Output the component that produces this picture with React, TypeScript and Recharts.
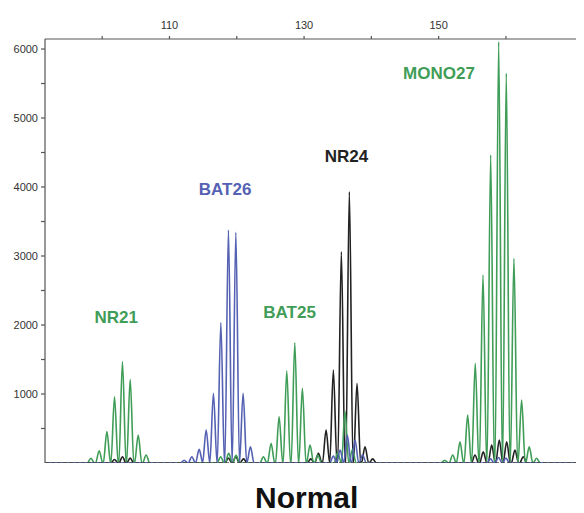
import React from 'react';
import { LineChart, Line, XAxis, YAxis, ReferenceDot } from 'recharts';

// fragment size (bp) on the x axis, peak height (RFU) on the y axis
const X_MIN = 91.5;
const X_MAX = 171.6;
const HALF_WIDTH = 0.54;

// green dye: NR21, BAT25, MONO27 (+ small bleed-through peaks)
const greenPos = [
  98.32, 99.55, 100.7, 101.83, 103.01, 104.16, 105.35, 106.53,
  117.6, 118.8, 119.9,
  123.96, 125.1, 126.29, 127.43, 128.62, 129.75, 130.89, 132.04,
  135.0, 136.09, 137.2,
  150.9, 152.09, 153.17, 154.31, 155.44, 156.59, 157.73, 158.92, 160.05, 161.19, 162.33, 163.46, 164.56,
];
const greenHeight = [
  68, 178, 454, 961, 1468, 1213, 406, 116,
  90, 140, 110,
  91, 285, 671, 1338, 1743, 1082, 261, 116,
  150, 750, 200,
  40, 116, 309, 696, 1444, 2724, 4463, 6105, 5647, 2966, 913, 236, 68,
];

// blue dye: BAT26
const bluePos = [
  112.18, 113.32, 114.41, 115.45, 116.53, 117.63, 118.76, 119.86, 120.94, 122.03,
  134.35, 135.35, 136.43, 137.58, 138.7,
  157.7, 158.9, 160.0,
];
const blueHeight = [
  40, 91, 198, 478, 1010, 2033, 3376, 3343, 1010, 236,
  100, 188, 406, 333, 120,
  60, 80, 70,
];

// black dye: NR24
const blackPos = [
  101.83, 103.01, 104.16,
  118.76, 119.86, 121.0,
  131.0, 132.13, 133.27, 134.35, 135.54, 136.73, 137.87, 139.06, 140.2,
  155.4, 156.63, 157.88, 159.01, 160.11, 161.34, 162.57,
];
const blackHeight = [
  50, 90, 70,
  70, 90, 60,
  60, 140, 478, 1348, 3062, 3931, 1155, 236, 60,
  116, 164, 261, 333, 309, 188, 91,
];

const xTicks = [100, 110, 120, 130, 140, 150, 160];
const xLabelled = [110, 130, 150];
const yTicks = [0, 500, 1000, 1500, 2000, 2500, 3000, 3500, 4000, 4500, 5000, 5500, 6000];

const markerNames = ['NR21', 'BAT26', 'BAT25', 'NR24', 'MONO27'];
const markerX = [102.08, 118.27, 127.85, 136.31, 150.05];
const markerY = [2116, 3978, 2188, 4456, 5651];

const GREEN = '#3f9d58';
const BLUE = '#5561b3';
const BLACK = '#222222';
const markerColors = [GREEN, BLUE, GREEN, BLACK, GREEN];

type Pt = { x: number; y: number };

function buildTrace(pos: number[], heights: number[]): Pt[] {
  const pts: Pt[] = [{ x: X_MIN, y: 0 }];
  pos.forEach((p, i) => {
    pts.push({ x: p - HALF_WIDTH, y: 0 }, { x: p, y: heights[i] }, { x: p + HALF_WIDTH, y: 0 });
  });
  pts.push({ x: X_MAX, y: 0 });
  return pts;
}

const greenTrace = buildTrace(greenPos, greenHeight);
const blueTrace = buildTrace(bluePos, blueHeight);
const blackTrace = buildTrace(blackPos, blackHeight);
const baseline: Pt[] = [
  { x: X_MIN, y: 0 },
  { x: X_MAX, y: 0 },
];

const tickStyle = { fill: '#333', fontSize: 11, fontFamily: 'Liberation Sans, Arial, sans-serif' };

export default function App() {
  return (
    <div style={{ position: 'relative', width: 576, height: 505, fontFamily: 'Liberation Sans, Arial, sans-serif' }}>
      <LineChart width={576} height={460} margin={{ top: 0, right: 0, left: 0, bottom: 5 }}>
        <XAxis
          dataKey="x"
          type="number"
          orientation="top"
          domain={[X_MIN, X_MAX]}
          allowDataOverflow
          ticks={xTicks}
          tickFormatter={(v: number) => (xLabelled.includes(v) ? String(v) : '')}
          height={31}
          tickSize={3}
          tickMargin={7}
          tick={tickStyle}
          stroke="#555"
          strokeWidth={1.2}
        />
        <YAxis
          type="number"
          domain={[0, 6145]}
          allowDataOverflow
          ticks={yTicks}
          tickFormatter={(v: number) => (v % 1000 === 0 ? String(v) : '')}
          width={37}
          tickSize={4}
          tickMargin={3}
          tick={tickStyle}
          stroke="#555"
          strokeWidth={1.2}
        />
        <Line data={blackTrace} dataKey="y" type="monotone" stroke={BLACK} strokeWidth={1.6} dot={false} isAnimationActive={false} />
        <Line data={greenTrace} dataKey="y" type="monotone" stroke={GREEN} strokeWidth={1.6} dot={false} isAnimationActive={false} />
        <Line data={blueTrace} dataKey="y" type="monotone" stroke={BLUE} strokeWidth={1.6} dot={false} isAnimationActive={false} />
        <Line data={baseline} dataKey="y" type="linear" stroke="#444" strokeWidth={1.3} strokeDasharray="4 2" dot={false} isAnimationActive={false} />
        {markerNames.map((name, i) => (
          <ReferenceDot
            key={name}
            x={markerX[i]}
            y={markerY[i]}
            r={0}
            fill="none"
            stroke="none"
            label={{ value: name, position: 'center', fill: markerColors[i], fontSize: 17, fontWeight: 'bold' }}
          />
        ))}
      </LineChart>
      <div
        style={{
          position: 'absolute',
          left: 247,
          top: 470,
          fontSize: 30,
          fontWeight: 'bold',
          lineHeight: '40px',
          color: '#111',
        }}
      >
        Normal
      </div>
    </div>
  );
}
